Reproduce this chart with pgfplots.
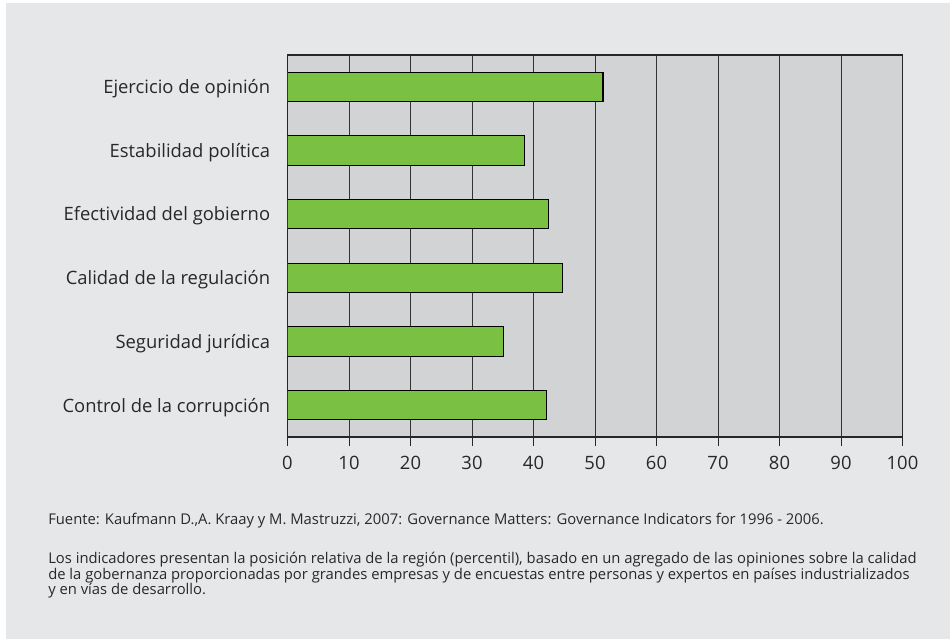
\documentclass[border=0pt]{standalone}
\usepackage{pgfplots}
\pgfplotsset{compat=1.18}
\usepackage{fontspec}
\setmainfont{Open Sans}
\definecolor{panel}{RGB}{230,231,232}
\definecolor{plotbg}{RGB}{209,211,212}
\definecolor{bargreen}{RGB}{122,193,67}
\definecolor{txt}{RGB}{40,40,40}

\begin{document}
\begin{tikzpicture}[x=0.75pt,y=0.75pt]
% page 950x639 px, 1px = 0.75pt, y up
\fill[white] (0,0) rectangle (950,639);
\fill[panel] (6,0) rectangle (950,636);

\begin{axis}[
    at={(287.5pt*0.75,202pt*0.75)}, anchor=south west,
    scale only axis,
    width=461.25pt, height=286.5pt,
    xbar, bar width=0.46,
    xmin=0, xmax=100,
    ymin=-0.5, ymax=5.5,
    xtick={0,10,...,100},
    ytick={0,...,5},
    yticklabels={Control de la corrupción,Seguridad jurídica,Calidad de la regulación,Efectividad del gobierno,Estabilidad política,Ejercicio de opinión},
    axis background/.style={fill=plotbg},
    axis line style={black!85, line width=0.9pt},
    xmajorgrids, grid style={black!80, line width=0.7pt},
    tick align=outside, xtick pos=bottom, ytick pos=left,
    major tick length=6.5pt,
    xtick style={black!85, line width=0.7pt},
    ytick style={draw=none},
    xticklabel style={font=\fontsize{13.8}{15}\selectfont, text=txt, yshift=-4pt},
    yticklabel style={font=\fontsize{13.8}{15}\selectfont, text=txt, xshift=-3pt, yshift=-1.5pt},
    /pgf/number format/assume math mode=true,
]
\addplot[fill=bargreen, draw=black, line width=0.8pt] coordinates {
    (42.1,0) (35.1,1) (44.7,2) (42.5,3) (38.6,4) (51.3,5)};
\end{axis}

\node[anchor=base west, text=txt, font=\fontsize{11.1}{13}\selectfont, inner sep=0pt] at (48,114)
  {Fuente: Kaufmann D.,A. Kraay y M. Mastruzzi, 2007: Governance Matters: Governance Indicators for 1996 - 2006.};
\node[anchor=north west, text=txt, font=\fontsize{11.1}{11.6}\selectfont, inner sep=0pt, align=left] at (48,87)
  {Los indicadores presentan la posición relativa de la región (percentil), basado en un agregado de las opiniones sobre la calidad\\
   de la gobernanza proporcionadas por grandes empresas y de encuestas entre personas y expertos en países industrializados\\
   y en vías de desarrollo.};
\end{tikzpicture}
\end{document}
